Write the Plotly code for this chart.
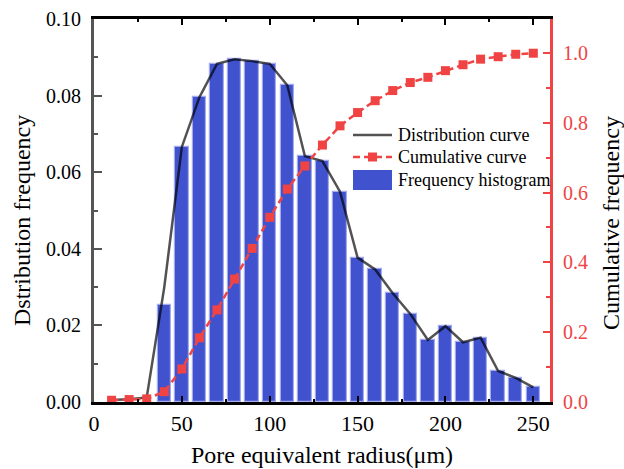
import plotly.graph_objects as go

# ---- data ----
bin_centers = [40, 50, 60, 70, 80, 90, 100, 110, 120, 130, 140,
               150, 160, 170, 180, 190, 200, 210, 220, 230, 240, 250]
freq_hist = [0.0253, 0.0666, 0.0796, 0.0883, 0.0895, 0.0890, 0.0883, 0.0827,
             0.0642, 0.0629, 0.0549, 0.0377, 0.0346, 0.0284, 0.0230, 0.0162,
             0.0198, 0.0156, 0.0168, 0.0081, 0.0063, 0.0038]

curve_x = [10, 20, 30, 40, 50, 60, 70, 80, 90, 100, 110, 120, 130, 140,
           150, 160, 170, 180, 190, 200, 210, 220, 230, 240, 250]
dist_curve = [0.0005, 0.0007, 0.0012, 0.0300, 0.0666, 0.0796, 0.0883, 0.0895,
              0.0890, 0.0883, 0.0827, 0.0642, 0.0629, 0.0549, 0.0377, 0.0346,
              0.0284, 0.0230, 0.0162, 0.0198, 0.0156, 0.0168, 0.0081, 0.0063,
              0.0038]
cum_curve = [0.005, 0.007, 0.009, 0.0295, 0.0946, 0.184, 0.264, 0.352, 0.440,
             0.529, 0.610, 0.676, 0.736, 0.791, 0.829, 0.863, 0.892, 0.915,
             0.930, 0.949, 0.966, 0.982, 0.989, 0.996, 0.999]

x_ticks = [0, 50, 100, 150, 200, 250]
y_ticks = [0.00, 0.02, 0.04, 0.06, 0.08, 0.10]
y2_ticks = [0.0, 0.2, 0.4, 0.6, 0.8, 1.0]

legend_labels = ["Distribution curve", "Cumulative curve", "Frequency histogram"]
x_title = "Pore equivalent radius(μm)"
y_title = "Dstribution frequency"
y2_title = "Cumulative frequency"

FONT = "Liberation Serif, Times New Roman, serif"
RED = "#F04444"
BLUE = "#4152CF"
GREY = "#555555"
DIST_COLOR = "rgba(0,0,0,0.68)"

W, H = 624, 469
ML, MR, MT, MB = 94, 74, 19, 67
PW, PH = W - ML - MR, H - MT - MB


def px(xp):
    return (xp - ML) / PW


def py(yp):
    return (H - MB - yp) / PH


fig = go.Figure()
fig.add_trace(go.Bar(
    x=bin_centers, y=freq_hist, width=7.6, name=legend_labels[2],
    marker=dict(color=BLUE, line=dict(color="#A3ABEE", width=1.2)),
    yaxis="y", xaxis="x"))
fig.add_trace(go.Scatter(
    x=curve_x, y=dist_curve, mode="lines", name=legend_labels[0],
    line=dict(color=DIST_COLOR, width=2.5), yaxis="y"))
fig.add_trace(go.Scatter(
    x=curve_x, y=cum_curve, mode="lines+markers", name=legend_labels[1],
    line=dict(color=RED, width=2.5, dash="7px,4px"),
    marker=dict(symbol="square", size=9, color=RED), yaxis="y2"))

# ---- legend drawn as shapes + text (matches the original's large swatches) ----
sym_x0, sym_x1, text_x = px(353), px(392), px(396)
rows_y = [135, 157, 180]
shapes = [
    dict(type="line", xref="paper", yref="paper", x0=sym_x0, x1=sym_x1,
         y0=py(rows_y[0]), y1=py(rows_y[0]),
         line=dict(color=DIST_COLOR, width=2.5)),
    dict(type="line", xref="paper", yref="paper", x0=sym_x0, x1=sym_x1,
         y0=py(rows_y[1]), y1=py(rows_y[1]),
         line=dict(color=RED, width=2.5, dash="7px,4px")),
    dict(type="rect", xref="paper", yref="paper",
         x0=px(372.5 - 4.5), x1=px(372.5 + 4.5),
         y0=py(rows_y[1] + 4.5), y1=py(rows_y[1] - 4.5),
         fillcolor=RED, line=dict(width=0)),
    dict(type="rect", xref="paper", yref="paper", x0=sym_x0, x1=sym_x1,
         y0=py(rows_y[2] + 10), y1=py(rows_y[2] - 10),
         fillcolor=BLUE, line=dict(width=0)),
]
annotations = [
    dict(text=lbl, xref="paper", yref="paper", x=text_x, y=py(yy),
         xanchor="left", yanchor="middle", showarrow=False,
         font=dict(size=18, family=FONT, color="black"))
    for lbl, yy in zip(legend_labels, rows_y)
]
# axis titles (placed as in the original, slightly below the axis centre)
annotations += [
    dict(text=y_title, xref="paper", yref="paper", x=px(22), y=py(221),
         xanchor="center", yanchor="middle", textangle=-90, showarrow=False,
         font=dict(size=24, family=FONT, color="black")),
    dict(text=y2_title, xref="paper", yref="paper", x=px(611), y=py(223),
         xanchor="center", yanchor="middle", textangle=-90, showarrow=False,
         font=dict(size=24, family=FONT, color="black")),
]

fig.update_layout(
    width=W, height=H,
    margin=dict(l=ML, r=MR, t=MT, b=MB, autoexpand=False),
    paper_bgcolor="white", plot_bgcolor="white",
    font=dict(family=FONT, color="black"),
    showlegend=False,
    shapes=shapes, annotations=annotations,
    bargap=0,
    xaxis=dict(range=[0, 259.5], tickvals=x_ticks, ticks="inside",
               ticklen=6, tickwidth=2, tickcolor="black",
               showline=True, linecolor="black", linewidth=3, mirror="ticks",
               showgrid=False, zeroline=False,
               tickfont=dict(size=22, family=FONT),
               minor=dict(dtick=25, tick0=0, ticks="inside", ticklen=3,
                          tickwidth=2, tickcolor="black"),
               title=dict(text=x_title,
                          font=dict(size=24, family=FONT), standoff=11)),
    yaxis=dict(range=[0, 0.1], tickvals=y_ticks, tickformat=".2f",
               ticks="inside", ticklen=8, tickwidth=2, tickcolor=GREY,
               showline=True, linecolor=GREY, linewidth=3,
               showgrid=False, zeroline=False, ticklabelstandoff=6,
               tickfont=dict(size=20, family=FONT),
               minor=dict(dtick=0.01, tick0=0, ticks="inside", ticklen=4,
                          tickwidth=2, tickcolor=GREY)),
    yaxis2=dict(range=[0, 1.097], tickvals=y2_ticks, tickformat=".1f",
                overlaying="y", side="right", anchor="x",
                ticks="inside", ticklen=7, tickwidth=2, tickcolor=RED,
                showline=True, linecolor=RED, linewidth=3,
                showgrid=False, zeroline=False, ticklabelstandoff=6,
                tickfont=dict(size=20, family=FONT, color=RED),
                minor=dict(dtick=0.1, tick0=0, ticks="inside", ticklen=4,
                           tickwidth=2, tickcolor=RED)),
)

fig.write_html("out.html",
               config={"displayModeBar": False},
               post_script="document.body.style.margin='0';"
                           "document.body.style.overflow='hidden';")
